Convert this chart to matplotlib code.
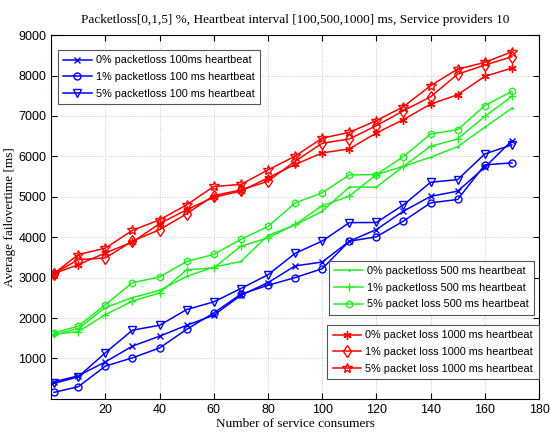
import matplotlib
matplotlib.use("Agg")
import matplotlib.pyplot as plt

# number of service consumers
x = [1, 10, 20, 30, 40, 50, 60, 70, 80, 90, 100, 110, 120, 130, 140, 150, 160, 170]

# 100 ms heartbeat
hb100_p0 = [420, 570, 915, 1305, 1550, 1820, 2070, 2560, 2875, 3290, 3385, 3900, 4190, 4645, 5010, 5140, 5730, 6390]
hb100_p1 = [160, 300, 810, 1015, 1260, 1720, 2125, 2590, 2810, 3000, 3220, 3900, 4010, 4400, 4850, 4935, 5790, 5840]
hb100_p5 = [380, 545, 1140, 1700, 1820, 2210, 2400, 2730, 3070, 3600, 3905, 4360, 4365, 4800, 5360, 5425, 6060, 6285]

# 500 ms heartbeat
hb500_p0 = [1580, 1740, 2260, 2505, 2685, 3030, 3260, 3400, 4045, 4300, 4640, 5240, 5240, 5755, 5980, 6240, 6720, 7190]
hb500_p1 = [1600, 1660, 2085, 2420, 2620, 3195, 3240, 3775, 3985, 4315, 4780, 5015, 5550, 5755, 6250, 6430, 6990, 7485]
hb500_p5 = [1630, 1800, 2330, 2875, 3015, 3400, 3575, 3945, 4265, 4845, 5100, 5540, 5550, 5995, 6555, 6660, 7255, 7610]

# 1000 ms heartbeat
hb1000_p0 = [3100, 3320, 3610, 3880, 4335, 4680, 4990, 5140, 5470, 5800, 6085, 6185, 6580, 6910, 7295, 7525, 7980, 8185]
hb1000_p1 = [3100, 3445, 3485, 3905, 4185, 4580, 5030, 5170, 5385, 5880, 6325, 6430, 6760, 7130, 7475, 8035, 8260, 8465]
hb1000_p5 = [3100, 3570, 3730, 4170, 4430, 4800, 5255, 5305, 5665, 6005, 6450, 6595, 6885, 7230, 7750, 8160, 8325, 8590]

blue = "#0000ff"
green = "#22ee22"
red = "#ff0000"
asterisk = (6, 2, 0)

fig = plt.figure(figsize=(5.5, 4.34), dpi=100)
ax = fig.add_axes([0.093, 0.081, 0.887, 0.838])

lw = 1.1
ms = 5
b1, = ax.plot(x, hb100_p0, color=blue, lw=lw, marker="x", ms=4)
b2, = ax.plot(x, hb100_p1, color=blue, lw=lw, marker="o", ms=ms, mfc="none")
b3, = ax.plot(x, hb100_p5, color=blue, lw=lw, marker="v", ms=ms + 1, mfc="none")

g1, = ax.plot(x, hb500_p0, color=green, lw=lw, marker=".", ms=2)
g2, = ax.plot(x, hb500_p1, color=green, lw=lw, marker="+", ms=6)
g3, = ax.plot(x, hb500_p5, color=green, lw=lw, marker="h", ms=ms, mfc="none")

r1, = ax.plot(x, hb1000_p0, color=red, lw=lw, marker=asterisk, ms=6)
r2, = ax.plot(x, hb1000_p1, color=red, lw=lw, marker="d", ms=ms + 1, mfc="none")
r3, = ax.plot(x, hb1000_p5, color=red, lw=lw, marker="*", ms=7, mfc="none")

ax.set_xlim(0, 180)
ax.set_ylim(0, 9000)
ax.set_xticks(range(20, 181, 20))
ax.set_yticks(range(1000, 9001, 1000))
ax.grid(True, linestyle=":", color="#c8c8c8", linewidth=0.7)
ax.tick_params(direction="in", top=True, right=True, labelsize=9, length=4)
for lab in ax.get_xticklabels() + ax.get_yticklabels():
    lab.set_family("Liberation Sans")

ax.set_title("Packetloss[0,1,5] %, Heartbeat interval [100,500,1000] ms, Service providers 10",
             family="Liberation Serif", fontsize=9.5, pad=9)
ax.set_xlabel("Number of service consumers", family="Liberation Serif", fontsize=9.5, labelpad=2)
ax.set_ylabel("Average failovertime [ms]", family="Liberation Serif", fontsize=9.5)
ax.yaxis.set_label_coords(-0.073, 0.5)

leg_kw = dict(frameon=True, fancybox=False, edgecolor="#555555",
              framealpha=1, handlelength=2.6, borderpad=0.5, labelspacing=0.62,
              handletextpad=0.4, borderaxespad=0,
              prop={"family": "Liberation Sans", "size": 7.8})

leg1 = ax.legend([b1, b2, b3],
                 ["0% packetloss 100ms heartbeat", "1% packetloss 100 ms heartbeat",
                  "5% packetloss 100 ms heartbeat"],
                 loc="upper left", bbox_to_anchor=(0.014, 0.959), **leg_kw)
ax.add_artist(leg1)
leg2 = ax.legend([g1, g2, g3],
                 ["0% packetloss 500 ms heartbeat", "1% packetloss 500 ms heartbeat",
                  "5% packet loss 500 ms heartbeat"],
                 loc="upper right", bbox_to_anchor=(0.990, 0.380), **leg_kw)
ax.add_artist(leg2)
leg3 = ax.legend([r1, r2, r3],
                 ["0% packet loss 1000 ms heartbeat", "1% packet loss 1000 ms heartbeat",
                  "5% packet loss 1000 ms heartbeat"],
                 loc="upper right", bbox_to_anchor=(0.999, 0.203), **leg_kw)
for leg in (leg1, leg2, leg3):
    leg.get_frame().set_linewidth(0.8)

fig.savefig("out.png", dpi=100)
